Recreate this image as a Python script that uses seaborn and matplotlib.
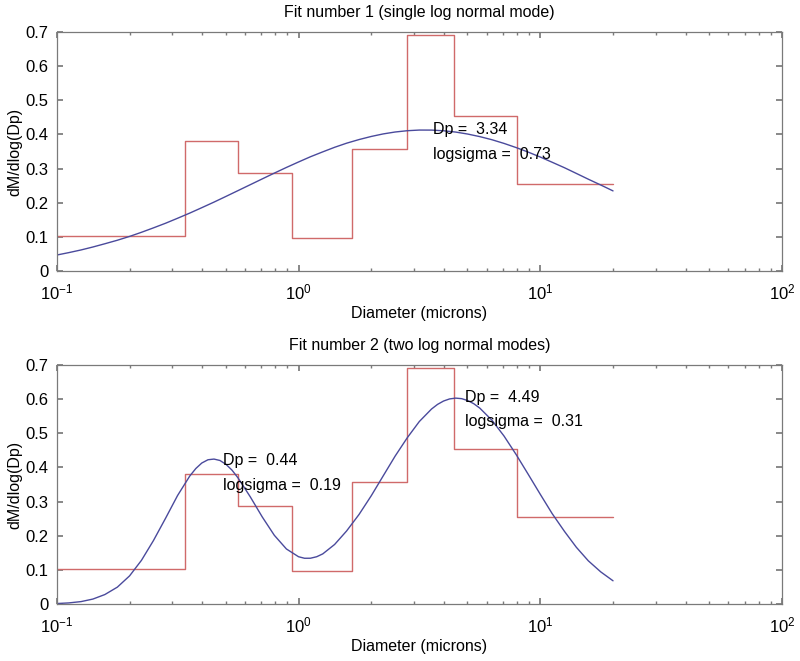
import matplotlib
matplotlib.use("Agg")
import matplotlib.pyplot as plt
import numpy as np
import pandas as pd
import seaborn as sns

# measured size distribution (bin edges in microns, dM/dlog(Dp) per bin)
bin_edges = [0.1, 0.34, 0.56, 0.94, 1.66, 2.8, 4.4, 8.0, 20.0]
bin_values = [0.103, 0.38, 0.288, 0.098, 0.356, 0.69, 0.453, 0.255]

# fit 1 - single log normal mode
fit1_x = [0.1, 0.112, 0.126, 0.141, 0.158, 0.178, 0.2, 0.224, 0.251, 0.282, 0.316, 0.355,
          0.398, 0.447, 0.501, 0.562, 0.631, 0.708, 0.794, 0.891, 1.0, 1.12, 1.26, 1.41,
          1.58, 1.78, 2.0, 2.24, 2.51, 2.82, 3.16, 3.55, 3.98, 4.47, 5.01, 5.62, 6.31,
          7.08, 7.94, 8.91, 10.0, 11.2, 12.6, 14.1, 15.8, 17.8, 20.0]
fit1_y = [0.0468, 0.0538, 0.0617, 0.0703, 0.0798, 0.0901, 0.1013, 0.1134, 0.1263, 0.14,
          0.1545, 0.1697, 0.1855, 0.2018, 0.2185, 0.2355, 0.2527, 0.2698, 0.2867, 0.3033,
          0.3193, 0.3346, 0.349, 0.3623, 0.3743, 0.385, 0.3941, 0.4015, 0.4071, 0.4109,
          0.4128, 0.4127, 0.4107, 0.4069, 0.4011, 0.3936, 0.3845, 0.3737, 0.3616, 0.3483,
          0.3338, 0.3185, 0.3024, 0.2858, 0.2689, 0.2518, 0.2346]

# fit 2 - two log normal modes
fit2_x = [0.1, 0.112, 0.126, 0.141, 0.158, 0.178, 0.2, 0.224, 0.251, 0.282, 0.316, 0.355,
          0.376, 0.398, 0.422, 0.447, 0.473, 0.501, 0.531, 0.562, 0.631, 0.708, 0.794, 0.891,
          1.0, 1.059, 1.12, 1.189, 1.26, 1.41, 1.58, 1.78, 2.0, 2.24, 2.51, 2.82, 3.16, 3.55,
          3.758, 3.98, 4.217, 4.47, 4.732, 5.01, 5.309, 5.62, 6.31, 7.08, 7.94, 8.91, 10.0,
          11.2, 12.6, 14.1, 15.8, 17.8, 20.0]
fit2_y = [0.0014, 0.0032, 0.0071, 0.0145, 0.0277, 0.0494, 0.0824, 0.128, 0.1857, 0.2516,
          0.3179, 0.375, 0.3969, 0.413, 0.4225, 0.4245, 0.4204, 0.4091, 0.3918, 0.3693,
          0.3143, 0.2549, 0.2013, 0.1612, 0.1385, 0.134, 0.1341, 0.1385, 0.1469, 0.1744,
          0.2138, 0.2624, 0.3173, 0.3753, 0.4333, 0.4874, 0.5345, 0.5711, 0.5846, 0.5945,
          0.6007, 0.603, 0.6014, 0.5959, 0.5866, 0.5738, 0.5383, 0.492, 0.4382, 0.3802,
          0.3214, 0.2648, 0.2125, 0.1662, 0.1266, 0.094, 0.068]

titles = ["Fit number 1 (single log normal mode)", "Fit number 2 (two log normal modes)"]
annotations = [
    [(3.6, 0.413, "Dp =  3.34"), (3.6, 0.340, "logsigma =  0.73")],
    [(0.485, 0.419, "Dp =  0.44"), (0.485, 0.346, "logsigma =  0.19"),
     (4.9, 0.604, "Dp =  4.49"), (4.9, 0.534, "logsigma =  0.31")],
]
y_ticks = [0, 0.1, 0.2, 0.3, 0.4, 0.5, 0.6, 0.7]
y_ticklabels = ["0", "0.1", "0.2", "0.3", "0.4", "0.5", "0.6", "0.7"]

sns.set_theme(style="ticks")
plt.rcParams["font.family"] = ["Liberation Sans", "DejaVu Sans"]
plt.rcParams["text.color"] = "black"
plt.rcParams["axes.labelcolor"] = "black"
plt.rcParams["xtick.direction"] = "in"
plt.rcParams["ytick.direction"] = "in"

step_df = pd.DataFrame({"Dp": bin_edges, "dM": bin_values + [bin_values[-1]]})
fits = [pd.DataFrame({"Dp": fit1_x, "dM": fit1_y}), pd.DataFrame({"Dp": fit2_x, "dM": fit2_y})]

fig = plt.figure(figsize=(8, 6.61), dpi=100)
axes = [fig.add_axes([0.071, 0.590, 0.9065, 0.3616]),
        fig.add_axes([0.071, 0.0862, 0.9065, 0.3616])]

step_color = "#d06a6a"
fit_color = "#4a4a9c"
frame_color = "#7a7a7a"

for i, ax in enumerate(axes):
    sns.lineplot(data=step_df, x="Dp", y="dM", ax=ax, color=step_color, linewidth=1.0,
                 drawstyle="steps-post", estimator=None, sort=False)
    sns.lineplot(data=fits[i], x="Dp", y="dM", ax=ax, color=fit_color, linewidth=1.0,
                 estimator=None, sort=False)
    ax.set_xscale("log")
    ax.set_xlim(0.1, 100)
    ax.set_ylim(0, 0.7)
    ax.set_yticks(y_ticks)
    ax.set_yticklabels(y_ticklabels)
    ax.tick_params(which="both", top=True, right=True, color=frame_color, labelsize=12,
                   labelcolor="black")
    ax.tick_params(which="major", length=4)
    ax.tick_params(which="minor", length=2.5)
    ax.tick_params(axis="x", pad=8)
    ax.tick_params(axis="y", pad=6)
    for sp in ax.spines.values():
        sp.set_color(frame_color)
        sp.set_linewidth(0.9)
    ax.set_title(titles[i], fontsize=11.5, pad=11)
    ax.set_xlabel("Diameter (microns)", fontsize=11.5, labelpad=3)
    ax.set_ylabel("dM/dlog(Dp)", fontsize=11.5, labelpad=2)
    for x, y, s in annotations[i]:
        ax.text(x, y, s, fontsize=11.5, va="center", ha="left", color="black")

fig.savefig("out.png", dpi=100)
